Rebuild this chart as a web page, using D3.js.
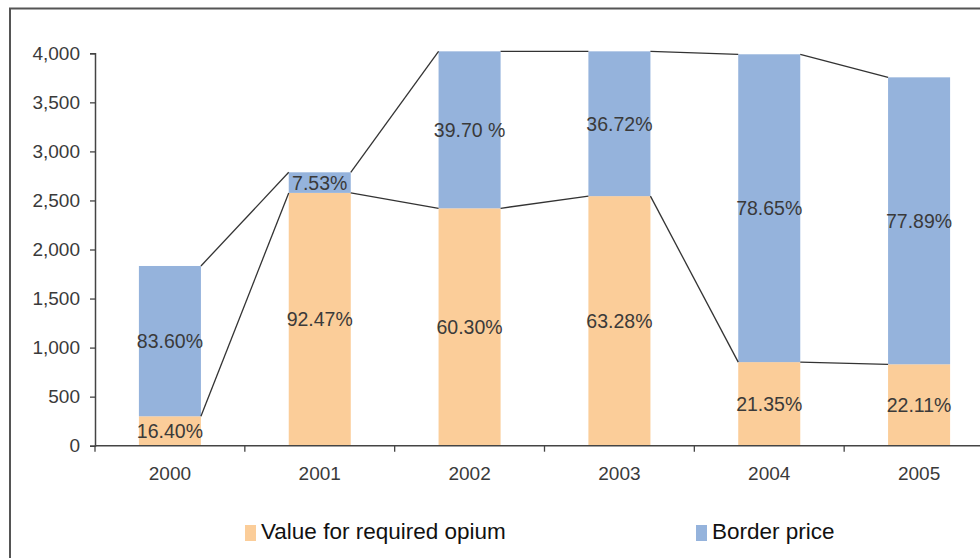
<!DOCTYPE html>
<html>
<head>
<meta charset="utf-8">
<script src="https://cdn.jsdelivr.net/npm/d3@7"></script>
<style>
  body { margin: 0; background: #fff; }
  svg { display: block; font-family: "Liberation Sans", Arial, sans-serif; }
</style>
</head>
<body>
<div id="chart"></div>
<script>
// chart data
const years = ["2000", "2001", "2002", "2003", "2004", "2005"];
const opiumValue = [300, 2577, 2420, 2544, 852, 830];     // value for required opium
const borderValue = [1532, 210, 1600, 1476, 3138, 2925];  // border price part
const opiumLabels = ["16.40%", "92.47%", "60.30%", "63.28%", "21.35%", "22.11%"];
const borderLabels = ["83.60%", "7.53%", "39.70 %", "36.72%", "78.65%", "77.89%"];
const yTicks = [0, 500, 1000, 1500, 2000, 2500, 3000, 3500, 4000];
const seriesNames = ["Value for required opium", "Border price"];
const colors = ["#fbcd99", "#95b3dc"];

const width = 980, height = 558;

const svg = d3.select("#chart")
  .append("svg")
  .attr("width", width)
  .attr("height", height);

// outer frame (runs off the page on right and bottom)
svg.append("rect")
  .attr("x", 10)
  .attr("y", 8.5)
  .attr("width", 1000)
  .attr("height", 600)
  .attr("fill", "none")
  .attr("stroke", "#555")
  .attr("stroke-width", 2);

const x = d3.scaleBand()
  .domain(years)
  .range([95, 994])
  .paddingInner(0.586)
  .paddingOuter(0.293);

const y = d3.scaleLinear()
  .domain([0, 4000])
  .range([445.7, 53.3]);

const data = years.map((yr, i) => ({
  year: yr,
  opium: opiumValue[i],
  border: borderValue[i],
  total: opiumValue[i] + borderValue[i],
  oLabel: opiumLabels[i],
  bLabel: borderLabels[i]
}));

// bars
const bars = svg.append("g");
bars.selectAll(".opium")
  .data(data)
  .enter()
  .append("rect")
  .attr("x", d => x(d.year))
  .attr("width", x.bandwidth())
  .attr("y", d => y(d.opium))
  .attr("height", d => y(0) - y(d.opium))
  .attr("fill", colors[0]);

bars.selectAll(".border")
  .data(data)
  .enter()
  .append("rect")
  .attr("x", d => x(d.year))
  .attr("width", x.bandwidth())
  .attr("y", d => y(d.total))
  .attr("height", d => y(d.opium) - y(d.total))
  .attr("fill", colors[1]);

// series connector lines, right edge of one bar to left edge of the next
const links = svg.append("g")
  .attr("stroke", "#333")
  .attr("stroke-width", 1.3);
for (let i = 0; i < data.length - 1; i++) {
  const a = data[i], b = data[i + 1];
  ["total", "opium"].forEach(k => {
    links.append("line")
      .attr("x1", x(a.year) + x.bandwidth())
      .attr("y1", y(a[k]))
      .attr("x2", x(b.year))
      .attr("y2", y(b[k]));
  });
}

// y axis
const yAxis = svg.append("g")
  .attr("transform", "translate(95,0)")
  .call(d3.axisLeft(y).tickValues(yTicks).tickSize(5).tickPadding(10)
    .tickFormat(d3.format(",")));
yAxis.select(".domain").attr("stroke", "#444").attr("stroke-width", 1.5);
yAxis.selectAll(".tick line").attr("stroke", "#444").attr("stroke-width", 1.3);
yAxis.selectAll("text")
  .attr("fill", "#3a3a3a")
  .style("font-size", "19px")
  .style("font-family", "Liberation Sans, Arial, sans-serif");

// x axis line with ticks at category boundaries
const xAxis = svg.append("g");
xAxis.append("line")
  .attr("x1", 95).attr("x2", 1000)
  .attr("y1", y(0)).attr("y2", y(0))
  .attr("stroke", "#444")
  .attr("stroke-width", 1.5);
xAxis.selectAll(".xtick")
  .data(years.slice(1))
  .enter()
  .append("line")
  .attr("x1", d => x(d) - x.step() * x.paddingOuter())
  .attr("x2", d => x(d) - x.step() * x.paddingOuter())
  .attr("y1", y(0))
  .attr("y2", y(0) + 6)
  .attr("stroke", "#444")
  .attr("stroke-width", 1.3);
xAxis.append("line")
  .attr("x1", 95).attr("x2", 95)
  .attr("y1", y(0)).attr("y2", y(0) + 6)
  .attr("stroke", "#444")
  .attr("stroke-width", 1.3);
xAxis.selectAll(".xlabel")
  .data(years)
  .enter()
  .append("text")
  .attr("x", d => x(d) + x.bandwidth() / 2)
  .attr("y", 480)
  .attr("text-anchor", "middle")
  .attr("fill", "#3a3a3a")
  .style("font-size", "19px")
  .text(d => d);

// percentage labels in the middle of each segment
const labels = svg.append("g")
  .attr("fill", "#3a3a3a")
  .attr("text-anchor", "middle")
  .style("font-size", "19.5px");
labels.selectAll(".olab")
  .data(data)
  .enter()
  .append("text")
  .attr("x", d => x(d.year) + x.bandwidth() / 2)
  .attr("y", d => (y(0) + y(d.opium)) / 2)
  .attr("dy", "0.36em")
  .text(d => d.oLabel);
labels.selectAll(".blab")
  .data(data)
  .enter()
  .append("text")
  .attr("x", d => x(d.year) + x.bandwidth() / 2)
  .attr("y", d => (y(d.opium) + y(d.total)) / 2)
  .attr("dy", "0.36em")
  .text(d => d.bLabel);

// legend
const legendX = [245, 696];
const legend = svg.append("g");
seriesNames.forEach((name, i) => {
  legend.append("rect")
    .attr("x", legendX[i])
    .attr("y", 525)
    .attr("width", 11)
    .attr("height", 16)
    .attr("fill", colors[i]);
  legend.append("text")
    .attr("x", legendX[i] + 16)
    .attr("y", 539)
    .attr("fill", "#111")
    .style("font-size", "22.5px")
    .text(name);
});
</script>
</body>
</html>
